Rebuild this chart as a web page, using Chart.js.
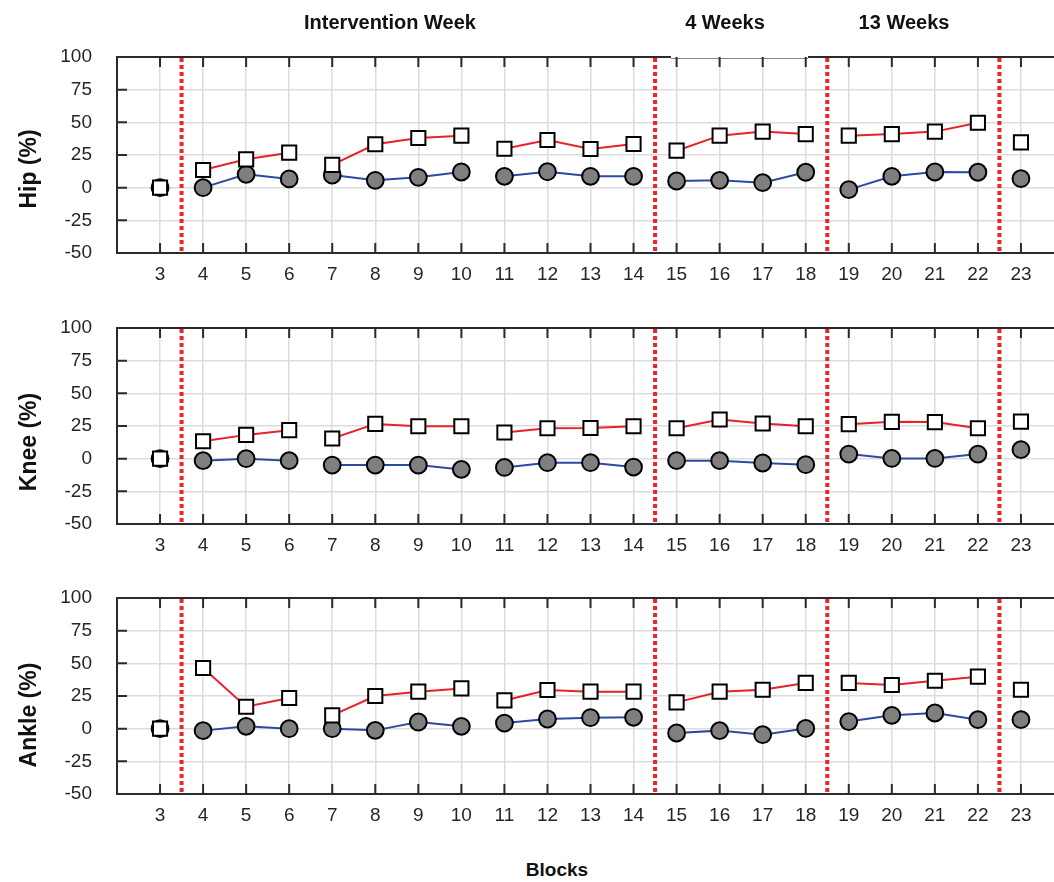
<!DOCTYPE html>
<html>
<head>
<meta charset="utf-8">
<script src="https://cdn.jsdelivr.net/npm/chart.js@4.4.1/dist/chart.umd.min.js"></script>
<style>
  html, body { margin: 0; padding: 0; background: #fff; overflow: hidden; }
  #page { position: relative; width: 1054px; height: 882px; overflow: hidden; }
  canvas { position: absolute; left: 0; }
  .lbl { position: absolute; font-family: 'Liberation Sans', Arial, sans-serif; font-weight: bold; color: #111; white-space: nowrap; transform: translate(-50%, -50%); }
  .ytitle { font-size: 23px; transform: translate(-50%, -50%) rotate(-90deg); }
</style>
</head>
<body>
<div id="page">
  <canvas id="hip" width="1076" height="290" style="top:0px"></canvas>
  <canvas id="knee" width="1076" height="290" style="top:271px"></canvas>
  <canvas id="ankle" width="1076" height="290" style="top:541px"></canvas>

  <div class="lbl" style="left:390px; top:22px; font-size:20px;">Intervention Week</div>
  <div class="lbl" style="left:725px; top:22px; font-size:20px;">4 Weeks</div>
  <div class="lbl" style="left:904px; top:22px; font-size:20px;">13 Weeks</div>

  <div class="lbl ytitle" style="left:28px; top:169px;">Hip (%)</div>
  <div class="lbl ytitle" style="left:28px; top:442px;">Knee (%)</div>
  <div class="lbl ytitle" style="left:28px; top:715px;">Ankle (%)</div>

  <div class="lbl" style="left:557px; top:870px; font-size:19px;">Blocks</div>
</div>

<script>
// Blocks 3..23
const blocks = [3, 4, 5, 6, 7, 8, 9, 10, 11, 12, 13, 14, 15, 16, 17, 18, 19, 20, 21, 22, 23];

// red squares / grey circles, one pair per joint
const hipSquares   = [0, 13.5, 21.7, 26.8, 17.4, 33.2, 38, 39.8, 29.8, 36.5, 29.6, 33.4, 28.3, 39.8, 42.9, 41, 39.8, 41, 42.9, 49.7, 34.7];
const hipCircles   = [0, 0, 10.2, 6.7, 9.7, 5.6, 7.9, 12, 8.7, 12.2, 8.7, 8.7, 5.1, 5.6, 3.8, 11.8, -1.5, 8.7, 12, 11.8, 6.9];
const kneeSquares  = [0, 13.3, 18.2, 21.8, 15.4, 26.6, 24.8, 24.8, 20, 23.3, 23.5, 24.8, 23.3, 30, 26.9, 24.8, 26.4, 28.2, 28, 23.3, 28.4];
const kneeCircles  = [0, -1.5, 0, -1.5, -4.9, -4.9, -4.9, -8.2, -6.7, -3.1, -3.1, -6.4, -1.5, -1.5, -3.3, -4.6, 3.5, 0.2, 0.2, 3.5, 6.9];
const ankleSquares = [0, 46.4, 16.8, 23.5, 10.2, 25, 28.3, 30.8, 21.6, 29.6, 28.3, 28.3, 20.1, 28.3, 29.8, 35, 35, 33.4, 36.7, 39.8, 29.8];
const ankleCircles = [0, -1.5, 1.8, 0, 0, -1.3, 5.1, 1.8, 4.3, 7.4, 8.4, 8.7, -3.3, -1.5, -4.6, 0.2, 5.4, 10.2, 12, 6.9, 6.9];

// lines are not drawn from these blocks to the next one
const breakAfter = [3, 6, 10, 14, 18, 22];
// red dotted phase separators
const phaseLines = [3.5, 14.5, 18.5, 22.5];
const yTicks = [-50, -25, 0, 25, 50, 75, 100];

const tickFont = { family: "'Liberation Sans', Arial, sans-serif", size: 19 };
const axisColor = '#2b2b2b';

function toPoints(values) {
    return blocks.map((b, i) => ({ x: b, y: values[i] }));
}

const framePlugin = {
    id: 'frame',
    beforeDatasetsDraw(chart, args, opts) {
        const ctx = chart.ctx;
        const a = chart.chartArea;
        const xs = chart.scales.x;
        const ys = chart.scales.y;
        ctx.save();

        // phase separators
        ctx.strokeStyle = '#ee2229';
        ctx.lineWidth = 4;
        ctx.setLineDash([4, 3]);
        phaseLines.forEach(v => {
            const px = xs.getPixelForValue(v);
            ctx.beginPath();
            ctx.moveTo(px, a.top + 1);
            ctx.lineTo(px, a.bottom);
            ctx.stroke();
        });
        ctx.setLineDash([]);

        // box
        ctx.strokeStyle = axisColor;
        ctx.lineWidth = 2;
        ctx.strokeRect(a.left, a.top, a.right - a.left, a.bottom - a.top);

        if (opts.topGap) {
            ctx.fillStyle = '#fff';
            ctx.fillRect(opts.topGap[0], a.top - 2, opts.topGap[1] - opts.topGap[0], 3.2);
            ctx.strokeStyle = '#666';
            ctx.lineWidth = 0.8;
            ctx.beginPath();
            ctx.moveTo(opts.topGap[0], a.top + 1.5);
            ctx.lineTo(opts.topGap[1], a.top + 1.5);
            ctx.stroke();
        }

        // inward tick marks
        ctx.strokeStyle = axisColor;
        ctx.lineWidth = 2;
        const len = 10;
        blocks.forEach(b => {
            const px = xs.getPixelForValue(b);
            ctx.beginPath();
            ctx.moveTo(px, a.bottom);
            ctx.lineTo(px, a.bottom - len);
            ctx.moveTo(px, a.top);
            ctx.lineTo(px, a.top + len);
            ctx.stroke();
        });
        yTicks.forEach(v => {
            const py = ys.getPixelForValue(v);
            ctx.beginPath();
            ctx.moveTo(a.left, py);
            ctx.lineTo(a.left + len, py);
            ctx.moveTo(a.right, py);
            ctx.lineTo(a.right - len, py);
            ctx.stroke();
        });
        ctx.restore();
    }
};

function drawPanel(id, squares, circles, topGap) {
    const segColor = color => ({
        borderColor: c => breakAfter.includes(c.p0.parsed.x) ? 'rgba(0,0,0,0)' : color
    });

    new Chart(document.getElementById(id), {
        type: 'line',
        data: {
            datasets: [
                {
                    data: toPoints(squares),
                    borderColor: '#e8212b',
                    borderWidth: 2,
                    segment: segColor('#e8212b'),
                    pointStyle: 'rect',
                    pointRadius: 10,
                    pointBorderWidth: 2,
                    pointBorderColor: '#000',
                    pointBackgroundColor: '#fff',
                    tension: 0
                },
                {
                    data: toPoints(circles),
                    borderColor: '#2b4ba3',
                    borderWidth: 2,
                    segment: segColor('#2b4ba3'),
                    pointStyle: 'circle',
                    pointRadius: 8.4,
                    pointBorderWidth: 2,
                    pointBorderColor: '#000',
                    pointBackgroundColor: '#7f7f7f',
                    tension: 0
                }
            ]
        },
        options: {
            responsive: false,
            animation: false,
            events: [],
            layout: { padding: { top: 57, right: 7, left: 0, bottom: 0 } },
            plugins: {
                legend: { display: false },
                tooltip: { enabled: false },
                frame: { topGap: topGap }
            },
            scales: {
                x: {
                    type: 'linear',
                    min: 2,
                    max: 24,
                    afterBuildTicks: s => { s.ticks = [2].concat(blocks, [24]).map(v => ({ value: v })); },
                    afterFit: s => { s.height = 37; },
                    ticks: {
                        autoSkip: false,
                        maxRotation: 0,
                        padding: 10,
                        font: tickFont,
                        color: '#262626',
                        callback: v => blocks.includes(v) ? String(v) : ''
                    },
                    grid: { color: '#dcdcdc', lineWidth: 1.5, drawTicks: false },
                    border: { display: false }
                },
                y: {
                    min: -50,
                    max: 100,
                    afterBuildTicks: s => { s.ticks = yTicks.map(v => ({ value: v })); },
                    afterFit: s => { s.width = 117; },
                    ticks: {
                        padding: 25,
                        font: tickFont,
                        color: '#262626'
                    },
                    grid: { color: '#dcdcdc', lineWidth: 1.5, drawTicks: false },
                    border: { display: false }
                }
            }
        },
        plugins: [framePlugin]
    });
}

drawPanel('hip', hipSquares, hipCircles, [671, 808]);
drawPanel('knee', kneeSquares, kneeCircles, null);
drawPanel('ankle', ankleSquares, ankleCircles, null);
</script>
</body>
</html>
